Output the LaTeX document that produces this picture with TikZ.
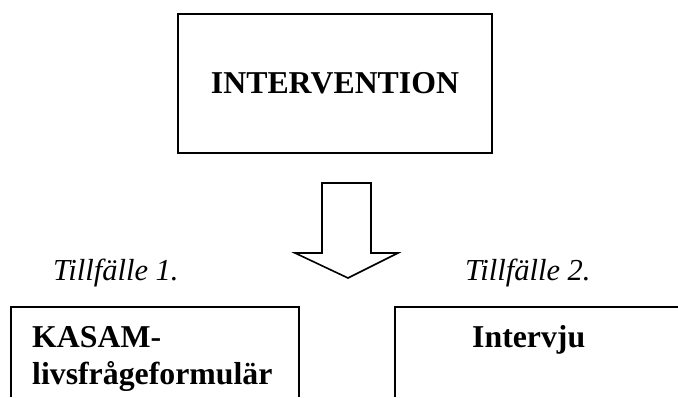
\documentclass[tikz,border=0pt]{standalone}
\usepackage{fontspec}
\setmainfont{Liberation Serif}
\begin{document}
\begin{tikzpicture}[x=1pt,y=-1pt,
  boxline/.style={draw=black,line width=1.6pt},
  boldtxt/.style={font=\fontsize{31.8}{38}\selectfont\bfseries,inner sep=0pt},
  itxt/.style={font=\fontsize{30.5}{37}\selectfont\itshape,inner sep=0pt}]
\useasboundingbox (0,0) rectangle (678,397);
% top box
\node[boxline,boldtxt,minimum width=314pt,minimum height=139pt] (interv) at (335,83.5) {INTERVENTION};
% block arrow
\draw[line width=1.6pt,line join=miter] (322,183) -- (371,183) -- (371,253) -- (398,253) -- (348,278) -- (295,253) -- (322,253) -- cycle;
% occasion labels
\node[itxt,anchor=base west] (t1) at (53,280) {Tillfälle 1.};
\node[itxt,anchor=base west] (t2) at (465,280) {Tillfälle 2.};
% bottom left box (cut off at page bottom)
\coordinate (lb1) at (11,397);
\coordinate (lb2) at (11,307);
\coordinate (lb3) at (299,307);
\coordinate (lb4) at (299,397);
\draw[boxline] (lb1) -- (lb2) -- (lb3) -- (lb4);
\node[boldtxt,anchor=base west] (kasam) at (32,347) {KASAM-};
\node[boldtxt,anchor=base west] (livs) at (32,384) {livsfrågeformulär};
% bottom right box (cut off at page edge)
\coordinate (rb1) at (395,397);
\coordinate (rb2) at (395,307);
\coordinate (rb3) at (678,307);
\draw[boxline] (rb1) -- (rb2) -- (rb3);
\node[boldtxt,anchor=base west] (interv2) at (472,347) {Intervju};
\end{tikzpicture}
\end{document}
